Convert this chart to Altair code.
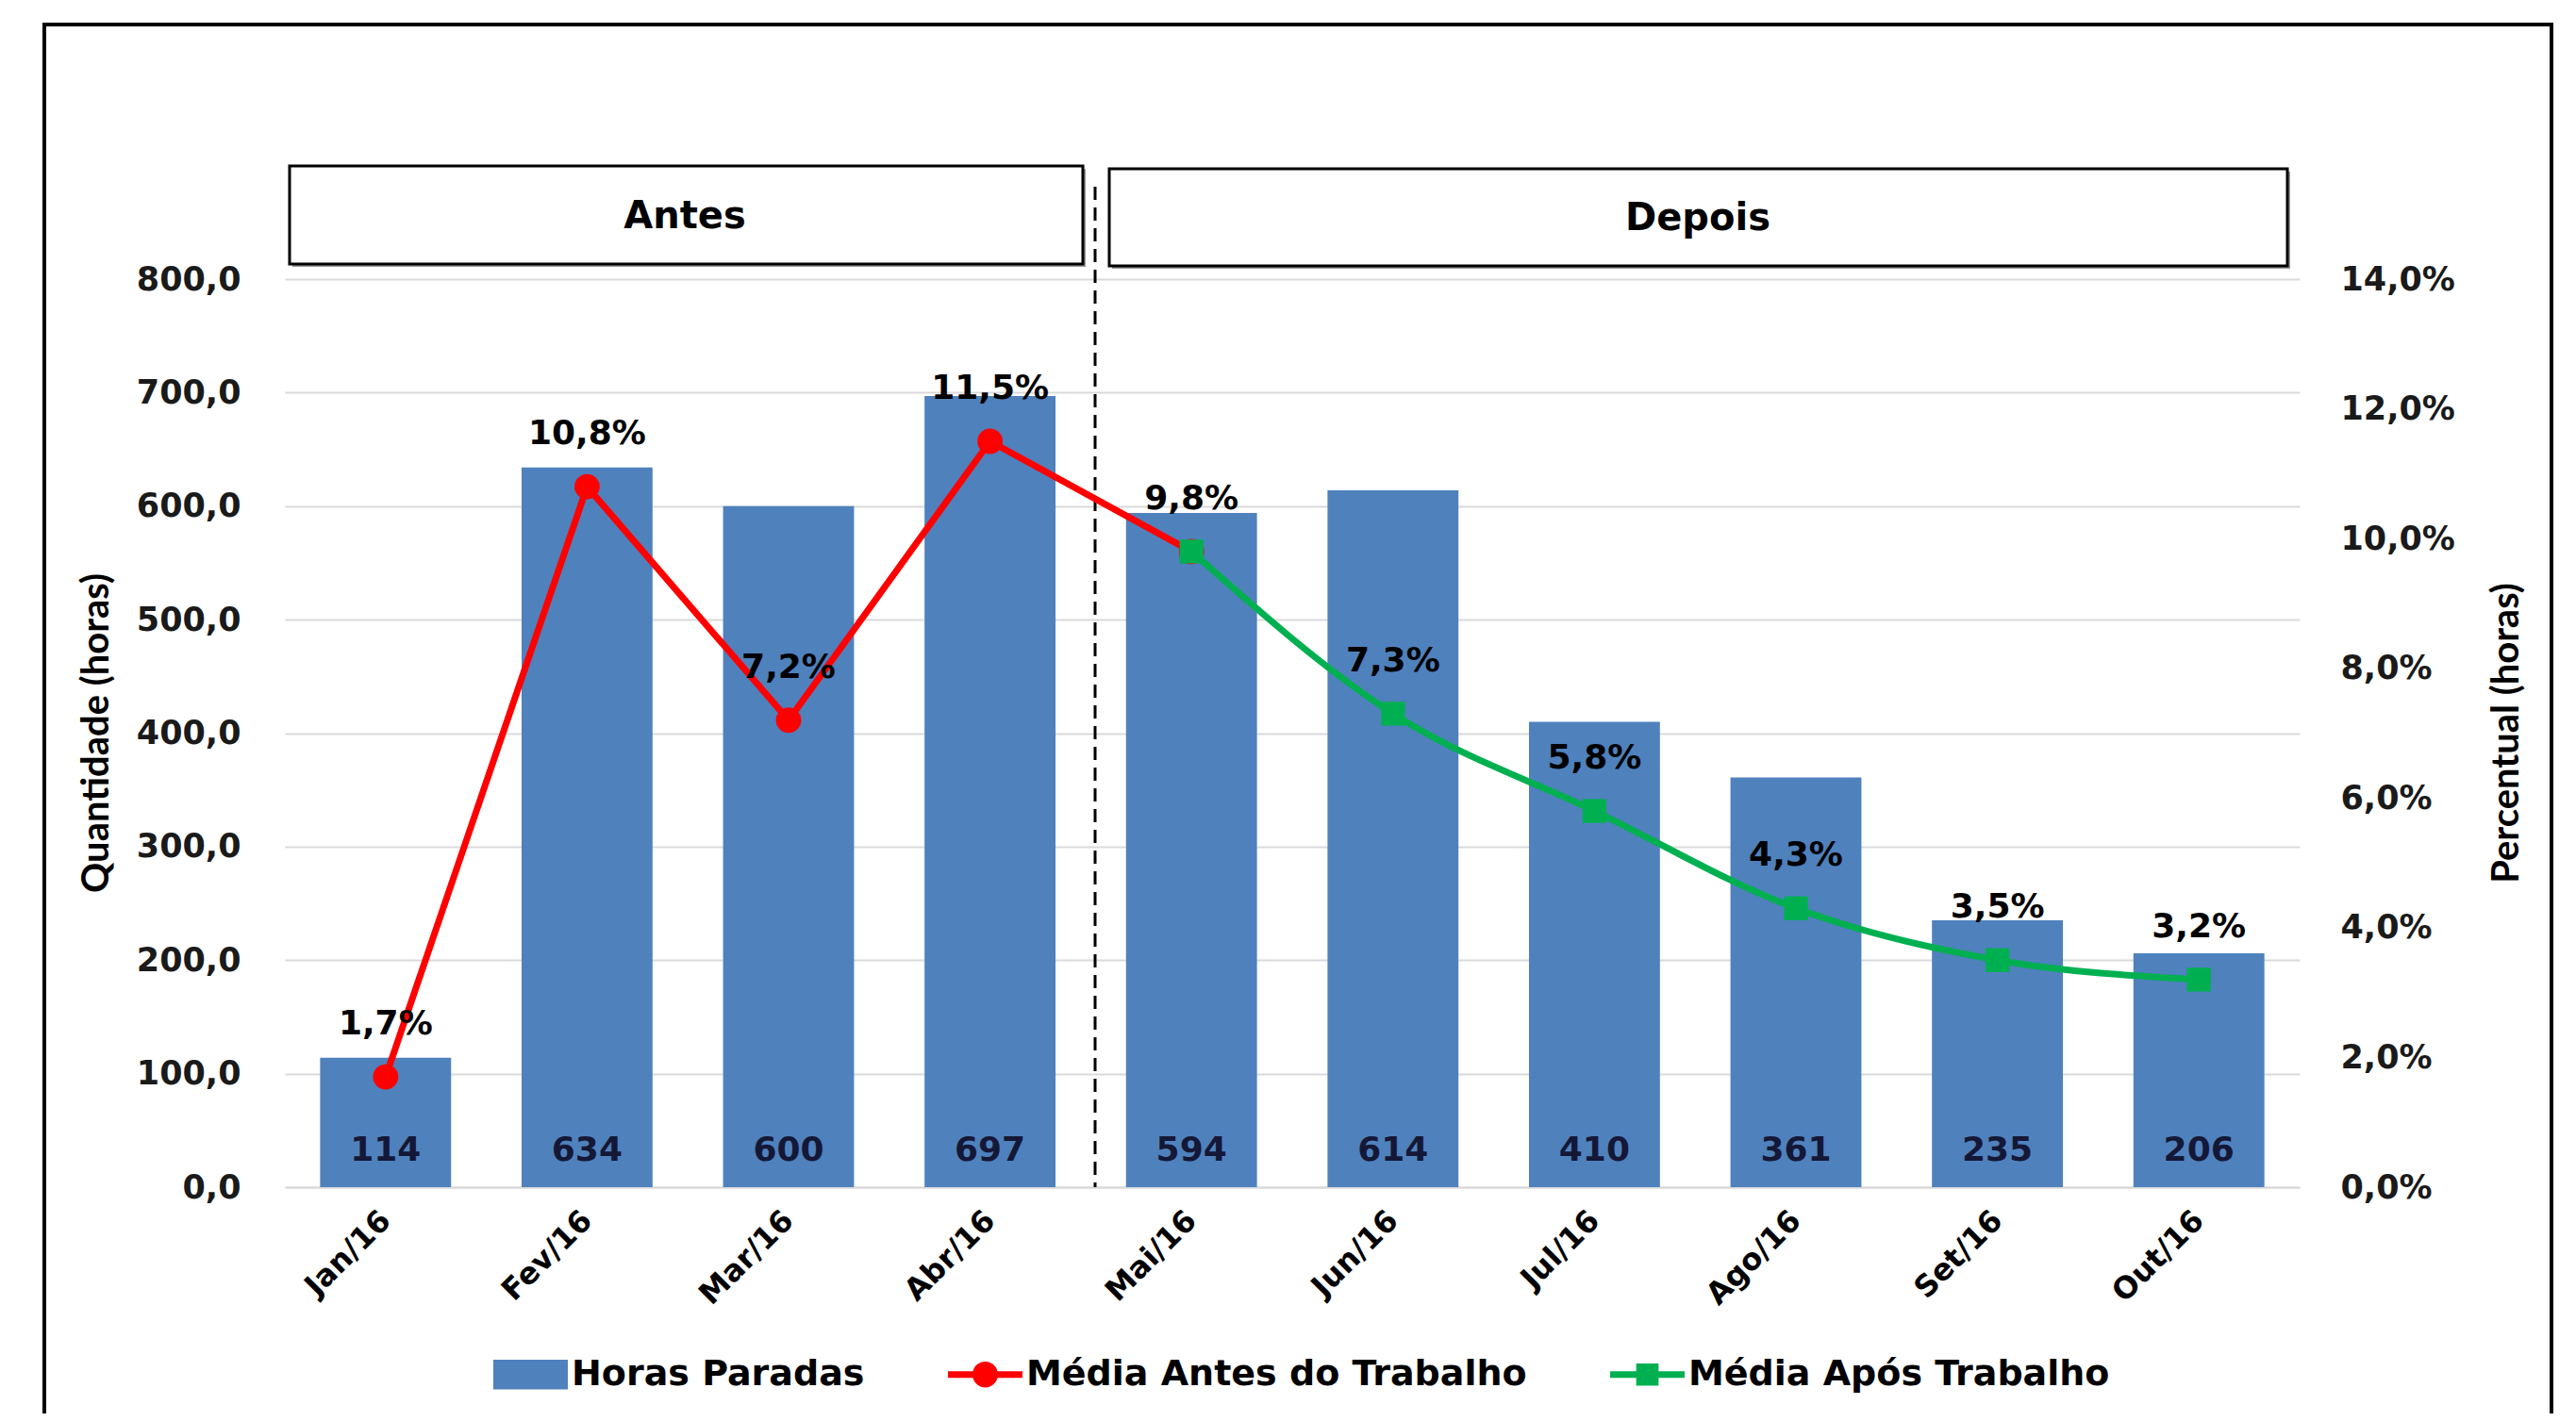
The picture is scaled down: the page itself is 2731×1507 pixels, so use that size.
import altair as alt
import pandas as pd

# ---------------- data ----------------
meses = ["Jan/16", "Fev/16", "Mar/16", "Abr/16", "Mai/16",
         "Jun/16", "Jul/16", "Ago/16", "Set/16", "Out/16"]
horas = [114, 634, 600, 697, 594, 614, 410, 361, 235, 206]
pct_todos = [1.7, 10.8, 7.2, 11.5, 9.8, 7.3, 5.8, 4.3, 3.5, 3.2]
meses_antes = ["Jan/16", "Fev/16", "Mar/16", "Abr/16", "Mai/16"]
pct_antes = [1.7, 10.8, 7.2, 11.5, 9.8]
meses_apos = ["Mai/16", "Jun/16", "Jul/16", "Ago/16", "Set/16", "Out/16"]
pct_apos = [9.8, 7.3, 5.8, 4.3, 3.5, 3.2]
series = ["Horas Paradas", "Média Antes do Trabalho", "Média Após Trabalho"]
y_left_ticks = [0, 100, 200, 300, 400, 500, 600, 700, 800]
y_right_ticks = [0, 2, 4, 6, 8, 10, 12, 14]

BLUE = "#4F81BD"
RED = "#FF0000"
GREEN = "#00B050"
FONT = "DejaVu Sans"
TFONT = "Lato"

df_bars = pd.DataFrame({"mes": meses, "horas": horas})
df_pct = pd.DataFrame({"mes": meses, "pct": pct_todos})
df_antes = pd.DataFrame({"mes": meses_antes, "pct": pct_antes})
df_apos = pd.DataFrame({"mes": meses_apos, "pct": pct_apos})
df_leg = pd.DataFrame({"serie": series, "mes": [meses[0]] * 3})
df_one = pd.DataFrame({"k": [0]})

# ---------------- encodings ----------------
x_enc = alt.X(
    "mes:N", sort=meses,
    scale=alt.Scale(paddingInner=0.35, paddingOuter=0.175),
    axis=alt.Axis(title=None, labelAngle=315, labelAlign="right", labelBaseline="middle",
                  labelFont=FONT, labelFontSize=32, labelFontWeight="bold", labelColor="black",
                  labelPadding=30, ticks=False, tickSize=0,
                  domainColor="#D9D9D9", domainWidth=2),
)

y_left = alt.Y(
    "horas:Q", scale=alt.Scale(domain=[0, 800], nice=False),
    axis=alt.Axis(title="Quantidade (horas)", values=y_left_ticks,
                  labelExpr="replace(format(datum.value, '.1f'), '.', ',')",
                  labelFont=FONT, labelFontSize=35, labelFontWeight="bold", labelColor="#1a1a1a",
                  labelPadding=47, ticks=False, tickSize=0, domain=False,
                  grid=True, gridColor="#DADADA", gridWidth=2,
                  titleFont=TFONT, titleFontSize=40, titleFontWeight="bold", titleColor="black",
                  titleAngle=270, titleX=-200, titleY=481, titleAlign="center",
                  titleBaseline="middle"),
)

y_right = alt.Y(
    "pct:Q", scale=alt.Scale(domain=[0, 14], nice=False),
    axis=alt.Axis(orient="right", title="Percentual (horas)", values=y_right_ticks,
                  labelExpr="replace(format(datum.value, '.1f'), '.', ',') + '%'",
                  labelFont=FONT, labelFontSize=35, labelFontWeight="bold", labelColor="#1a1a1a",
                  labelPadding=43, ticks=False, tickSize=0, domain=False, grid=False,
                  titleFont=TFONT, titleFontSize=40, titleFontWeight="bold", titleColor="black",
                  titleAngle=270, titleX=219, titleY=481, titleAlign="center",
                  titleBaseline="middle"),
)

# ---------------- left group ----------------
frame = alt.Chart(df_one).mark_rect(fill=None, stroke="black", strokeWidth=4).encode(
    x=alt.value(-255), x2=alt.value(2403), y=alt.value(-270), y2=alt.value(1260))

bars = alt.Chart(df_bars).mark_bar(color=BLUE).encode(x=x_enc, y=y_left)

bar_labels = alt.Chart(df_bars).mark_text(
    font=FONT, fontSize=36, fontWeight="bold", color="#141836", baseline="middle"
).encode(x=x_enc, y=alt.value(924), text=alt.Text("horas:Q", format="d"))

box_antes_sh = alt.Chart(df_one).mark_rect(fill="#9a9a9a").encode(
    x=alt.value(8), x2=alt.value(849), y=alt.value(-117), y2=alt.value(-13))
box_antes = alt.Chart(df_one).mark_rect(fill="white", stroke="black", strokeWidth=3).encode(
    x=alt.value(5), x2=alt.value(846), y=alt.value(-120), y2=alt.value(-16))
txt_antes = alt.Chart(df_one).mark_text(
    text="Antes", font=FONT, fontSize=40, fontWeight="bold", color="black", baseline="middle"
).encode(x=alt.value(424), y=alt.value(-66))

box_dep_sh = alt.Chart(df_one).mark_rect(fill="#9a9a9a").encode(
    x=alt.value(877), x2=alt.value(2126), y=alt.value(-114), y2=alt.value(-11))
box_dep = alt.Chart(df_one).mark_rect(fill="white", stroke="black", strokeWidth=3).encode(
    x=alt.value(874), x2=alt.value(2123), y=alt.value(-117), y2=alt.value(-14))
txt_dep = alt.Chart(df_one).mark_text(
    text="Depois", font=FONT, fontSize=40, fontWeight="bold", color="black", baseline="middle"
).encode(x=alt.value(1498), y=alt.value(-64))

divider = alt.Chart(df_one).mark_rule(color="black", strokeWidth=3, strokeDash=[14, 8]).encode(
    x=alt.value(859), y=alt.value(-98), y2=alt.value(963))

leg_paths = [
    "M-1,-0.4L1,-0.4L1,0.4L-1,0.4Z",
    "M-1,-0.09L-0.33,-0.09A0.34,0.34 0 0 1 0.33,-0.09L1,-0.09L1,0.09L0.33,0.09A0.34,0.34 0 0 1 -0.33,0.09L-1,0.09Z",
    "M-1,-0.09L-0.3,-0.09L-0.3,-0.3L0.3,-0.3L0.3,-0.09L1,-0.09L1,0.09L0.3,0.09L0.3,0.3L-0.3,0.3L-0.3,0.09L-1,0.09Z",
]
leg_props = dict(orient="none", legendX=221, legendY=1122, direction="horizontal", title=None,
                 labelFont=FONT, labelFontSize=38, labelFontWeight="bold", labelColor="black",
                 symbolSize=6241, symbolOpacity=1, symbolStrokeWidth=0, labelOffset=4,
                 columnPadding=88, labelLimit=0)
legend_layer = alt.Chart(df_leg).mark_point(filled=True, opacity=0).encode(
    x=x_enc, y=alt.value(0),
    color=alt.Color("serie:N", scale=alt.Scale(domain=series, range=[BLUE, RED, GREEN]),
                    legend=alt.Legend(**leg_props)),
    shape=alt.Shape("serie:N", scale=alt.Scale(domain=series, range=leg_paths),
                    legend=alt.Legend(**leg_props)),
)

left = alt.layer(frame, bars, bar_labels, box_antes_sh, box_antes, txt_antes,
                 box_dep_sh, box_dep, txt_dep, divider, legend_layer)

# ---------------- right group ----------------
line_antes = alt.Chart(df_antes).mark_line(color=RED, strokeWidth=7).encode(x=x_enc, y=y_right)
pts_antes = alt.Chart(df_antes).mark_point(filled=True, shape="circle", size=720, color=RED,
                                            opacity=1).encode(x=x_enc, y=y_right)
line_apos = alt.Chart(df_apos).mark_line(color=GREEN, strokeWidth=7,
                                         interpolate="monotone").encode(x=x_enc, y=y_right)
pts_apos = alt.Chart(df_apos).mark_point(filled=True, shape="square", size=640, color=GREEN,
                                          opacity=1).encode(x=x_enc, y=y_right)
pct_labels = alt.Chart(df_pct).transform_calculate(
    lbl="replace(format(datum.pct, '.1f'), '.', ',') + '%'"
).mark_text(font=FONT, fontSize=36, fontWeight="bold", color="black", baseline="middle",
            dy=-56).encode(x=x_enc, y=y_right, text="lbl:N")

right = alt.layer(line_antes, pts_antes, line_apos, pts_apos, pct_labels)

chart = alt.layer(left, right).resolve_scale(y="independent").properties(
    width=2136, height=963,
    autosize=alt.AutoSizeParams(type="none"),
    padding={"left": 294, "top": 288, "right": 285, "bottom": 240},
    background="white",
).configure_view(stroke=None)

chart.save("out.html", embed_options={"renderer": "svg", "actions": False})
